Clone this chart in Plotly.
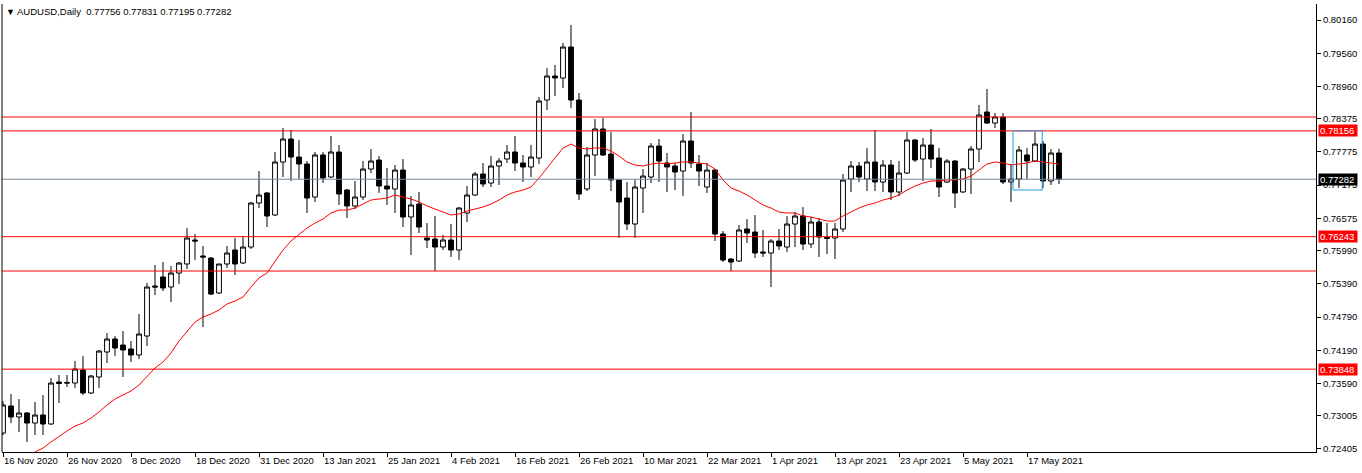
import plotly.graph_objects as go

# ---------------- data ----------------
symbol = "AUDUSD,Daily"

tick_bars = [0, 8, 16, 24, 32, 40, 48, 56, 64, 72, 80, 88, 96, 104, 112, 120, 128]
tick_labels = ["16 Nov 2020", "26 Nov 2020", "8 Dec 2020", "18 Dec 2020", "31 Dec 2020",
               "13 Jan 2021", "25 Jan 2021", "4 Feb 2021", "16 Feb 2021", "26 Feb 2021",
               "10 Mar 2021", "22 Mar 2021", "1 Apr 2021", "13 Apr 2021", "23 Apr 2021",
               "5 May 2021", "17 May 2021"]

opens = [
    0.72693, 0.73182, 0.72983, 0.73055, 0.72874, 0.73019, 0.72856, 0.73615, 0.73606, 0.73597,
    0.73832, 0.73417, 0.73706, 0.74158, 0.74393, 0.74284, 0.74212, 0.74104, 0.74447, 0.75351,
    0.75514, 0.75333, 0.75586, 0.75749, 0.76183, 0.75894, 0.75857, 0.75225, 0.75749, 0.76002,
    0.75767, 0.76056, 0.76852, 0.77033, 0.76635, 0.77593, 0.78009, 0.77683, 0.77557, 0.76960,
    0.77720, 0.77322, 0.77774, 0.77087, 0.76798, 0.76960, 0.77466, 0.77629, 0.77159, 0.77105,
    0.77448, 0.76599, 0.76834, 0.76219, 0.76201, 0.76056, 0.76183, 0.76002, 0.76671, 0.76996,
    0.77376, 0.77213, 0.77521, 0.77647, 0.77774, 0.77575, 0.77503, 0.77665, 0.78714, 0.79148,
    0.79112, 0.79672, 0.78714, 0.77105, 0.77720, 0.78190, 0.77738, 0.77268, 0.76942, 0.76472,
    0.77123, 0.77322, 0.77882, 0.77575, 0.77521, 0.77430, 0.77973, 0.77557, 0.77141, 0.77448,
    0.76291, 0.75839, 0.75803, 0.76382, 0.76327, 0.75966, 0.75948, 0.76165, 0.76056, 0.76472,
    0.76617, 0.76110, 0.76508, 0.76228, 0.76219, 0.76382, 0.77286, 0.77521, 0.77286, 0.77593,
    0.77231, 0.77539, 0.77051, 0.77394, 0.77991, 0.77647, 0.77900, 0.77665, 0.77231, 0.77611,
    0.77051, 0.77466, 0.77828, 0.78497, 0.78298, 0.78407, 0.77231, 0.77286, 0.77720, 0.77611,
    0.77918, 0.77250, 0.77756]

highs = [
    0.73272, 0.73398, 0.73308, 0.73073, 0.73254, 0.73380, 0.73688, 0.73742, 0.73742, 0.73995,
    0.74086, 0.73742, 0.74194, 0.74501, 0.74447, 0.74538, 0.74357, 0.74845, 0.75405, 0.75731,
    0.75785, 0.75713, 0.75785, 0.76400, 0.76291, 0.76074, 0.75875, 0.75749, 0.76074, 0.76219,
    0.76255, 0.76870, 0.77430, 0.77051, 0.77774, 0.78208, 0.78172, 0.77991, 0.77611, 0.77774,
    0.77774, 0.78063, 0.77900, 0.77105, 0.77250, 0.77611, 0.77828, 0.77702, 0.77485, 0.77539,
    0.77647, 0.76978, 0.77051, 0.76490, 0.76617, 0.76273, 0.76472, 0.76779, 0.77159, 0.77412,
    0.77575, 0.77702, 0.77665, 0.77900, 0.78063, 0.77720, 0.77900, 0.78768, 0.79293, 0.79347,
    0.79745, 0.80070, 0.78841, 0.77864, 0.78370, 0.78389, 0.78135, 0.77286, 0.77231, 0.77268,
    0.77466, 0.77937, 0.78009, 0.77756, 0.77575, 0.78099, 0.78497, 0.77720, 0.77575, 0.77466,
    0.76346, 0.75857, 0.76454, 0.76562, 0.76635, 0.76364, 0.76201, 0.76382, 0.76617, 0.76689,
    0.76779, 0.76599, 0.76581, 0.76490, 0.76490, 0.77376, 0.77611, 0.77593, 0.77846, 0.78172,
    0.77629, 0.77629, 0.77611, 0.78135, 0.78009, 0.78027, 0.78190, 0.77846, 0.77647, 0.77629,
    0.77485, 0.77882, 0.78624, 0.78913, 0.78479, 0.78479, 0.77557, 0.77882, 0.77846, 0.78135,
    0.77973, 0.77828, 0.77831]

lows = [
    0.72657, 0.72874, 0.72711, 0.72531, 0.72657, 0.72657, 0.72838, 0.73236, 0.73525, 0.73507,
    0.73380, 0.73398, 0.73507, 0.73959, 0.74086, 0.73706, 0.73977, 0.74031, 0.74266, 0.75188,
    0.75261, 0.75062, 0.75387, 0.75658, 0.75821, 0.74610, 0.75188, 0.75206, 0.75677, 0.75550,
    0.75749, 0.76020, 0.76761, 0.76418, 0.76617, 0.77322, 0.77250, 0.77286, 0.76671, 0.76870,
    0.77213, 0.77304, 0.76816, 0.76581, 0.76743, 0.76906, 0.77394, 0.77033, 0.76816, 0.76671,
    0.76418, 0.75912, 0.76309, 0.76038, 0.75622, 0.76002, 0.75875, 0.75821, 0.76508, 0.76978,
    0.77141, 0.77141, 0.77177, 0.77575, 0.77430, 0.77231, 0.77322, 0.77557, 0.78533, 0.78786,
    0.78931, 0.78569, 0.76906, 0.77069, 0.77340, 0.77702, 0.77069, 0.76219, 0.76364, 0.76219,
    0.76671, 0.77213, 0.77231, 0.77051, 0.77087, 0.76978, 0.77485, 0.77159, 0.77033, 0.76165,
    0.75785, 0.75622, 0.75785, 0.76129, 0.75857, 0.75875, 0.75333, 0.76002, 0.75966, 0.76056,
    0.76002, 0.76038, 0.75875, 0.75930, 0.75839, 0.76327, 0.77051, 0.77231, 0.77069, 0.77069,
    0.77051, 0.76906, 0.76978, 0.77376, 0.77593, 0.77250, 0.77485, 0.76960, 0.77213, 0.76761,
    0.77033, 0.77014, 0.77593, 0.78280, 0.78208, 0.77195, 0.76870, 0.77123, 0.77286, 0.77593,
    0.77123, 0.77177, 0.77195]

closes = [
    0.73200, 0.72983, 0.73055, 0.72874, 0.73019, 0.72856, 0.73597, 0.73588, 0.73597, 0.73850,
    0.73417, 0.73724, 0.74176, 0.74393, 0.74230, 0.74194, 0.74104, 0.74483, 0.75333, 0.75333,
    0.75315, 0.75586, 0.75767, 0.76219, 0.76165, 0.75875, 0.75206, 0.75749, 0.75948, 0.75749,
    0.76056, 0.76852, 0.76996, 0.76617, 0.77593, 0.78009, 0.77683, 0.77557, 0.76942, 0.77720,
    0.77304, 0.77774, 0.77014, 0.76798, 0.76960, 0.77466, 0.77611, 0.77159, 0.77105, 0.77448,
    0.76599, 0.76816, 0.76418, 0.76183, 0.76056, 0.76183, 0.76002, 0.76761, 0.76996, 0.77376,
    0.77195, 0.77521, 0.77611, 0.77774, 0.77575, 0.77503, 0.77683, 0.78696, 0.79148, 0.79112,
    0.79672, 0.78714, 0.77014, 0.77720, 0.78190, 0.77720, 0.77268, 0.76870, 0.76472, 0.77141,
    0.77340, 0.77882, 0.77611, 0.77503, 0.77412, 0.77973, 0.77575, 0.77430, 0.77448, 0.76291,
    0.75821, 0.75785, 0.76364, 0.76309, 0.75948, 0.75948, 0.76165, 0.76074, 0.76472, 0.76617,
    0.76110, 0.76508, 0.76237, 0.76210, 0.76382, 0.77268, 0.77521, 0.77322, 0.77593, 0.77231,
    0.77539, 0.77051, 0.77394, 0.77991, 0.77629, 0.77900, 0.77647, 0.77141, 0.77611, 0.77033,
    0.77466, 0.77828, 0.78443, 0.78298, 0.78407, 0.77231, 0.77286, 0.77810, 0.77611, 0.77918,
    0.77250, 0.77756, 0.77282]

ma_values = [
    0.72006, 0.72097, 0.72187, 0.72278, 0.72350, 0.72422, 0.72531, 0.72639, 0.72730, 0.72820,
    0.72874, 0.72965, 0.73073, 0.73200, 0.73308, 0.73380, 0.73453, 0.73561, 0.73706, 0.73869,
    0.73977, 0.74140, 0.74357, 0.74538, 0.74700, 0.74791, 0.74845, 0.74917, 0.75026, 0.75080,
    0.75152, 0.75333, 0.75496, 0.75586, 0.75785, 0.76002, 0.76165, 0.76291, 0.76400, 0.76490,
    0.76562, 0.76671, 0.76725, 0.76725, 0.76761, 0.76834, 0.76906, 0.76924, 0.76942, 0.76996,
    0.76960, 0.76924, 0.76870, 0.76798, 0.76743, 0.76689, 0.76635, 0.76653, 0.76707, 0.76743,
    0.76779, 0.76834, 0.76906, 0.76996, 0.77051, 0.77087, 0.77141, 0.77304, 0.77485, 0.77665,
    0.77846, 0.77918, 0.77846, 0.77828, 0.77846, 0.77846, 0.77792, 0.77702, 0.77593, 0.77539,
    0.77521, 0.77557, 0.77575, 0.77557, 0.77575, 0.77593, 0.77593, 0.77575, 0.77557, 0.77466,
    0.77268, 0.77123, 0.77069, 0.76996, 0.76906, 0.76816, 0.76761, 0.76689, 0.76671, 0.76671,
    0.76617, 0.76599, 0.76562, 0.76526, 0.76526, 0.76617, 0.76689, 0.76761, 0.76816, 0.76852,
    0.76906, 0.76942, 0.76996, 0.77087, 0.77159, 0.77213, 0.77250, 0.77250, 0.77268, 0.77268,
    0.77286, 0.77340, 0.77448, 0.77557, 0.77593, 0.77575, 0.77539, 0.77557, 0.77575, 0.77611,
    0.77593, 0.77575, 0.77557]

price_ticks = [0.80160, 0.79560, 0.78960, 0.78375, 0.77775, 0.77175, 0.76575,
               0.75990, 0.75390, 0.74790, 0.74190, 0.73590, 0.73005, 0.72405]
price_tick_text = ["0.80160", "0.79560", "0.78960", "0.78375", "0.77775", "0.77175", "0.76575",
                   "0.75990", "0.75390", "0.74790", "0.74190", "0.73590", "0.73005", "0.72405"]

labeled_levels = [0.78156, 0.76243, 0.73848]
unlabeled_levels = [0.78407, 0.75622]
bid_price = closes[-1]
rect_prices = [0.77087, 0.78156]
rect_bars = [126.25, 129.9]

# ---------------- figure ----------------
bars = list(range(len(closes)))
FONT = "Liberation Sans, Arial, sans-serif"

fig = go.Figure()
fig.add_trace(go.Candlestick(
    x=bars, open=opens, high=highs, low=lows, close=closes,
    increasing=dict(line=dict(color="black", width=1), fillcolor="white"),
    decreasing=dict(line=dict(color="black", width=1), fillcolor="black"),
    whiskerwidth=0, hoverinfo="skip", showlegend=False))
fig.add_trace(go.Scatter(x=bars, y=ma_values, mode="lines",
                         line=dict(color="#FF0000", width=1), hoverinfo="skip", showlegend=False))

shapes = []
for lv in labeled_levels + unlabeled_levels:
    shapes.append(dict(type="line", xref="paper", x0=0, x1=1, yref="y", y0=lv, y1=lv,
                       line=dict(color="#FF0000", width=1)))
shapes.append(dict(type="line", xref="paper", x0=0, x1=1, yref="y", y0=bid_price, y1=bid_price,
                   line=dict(color="#778899", width=1)))
shapes.append(dict(type="rect", xref="x", x0=rect_bars[0], x1=rect_bars[1], yref="y",
                   y0=rect_prices[0], y1=rect_prices[1],
                   line=dict(color="#1E9BD7", width=1), fillcolor="rgba(0,0,0,0)"))
# left frame line
shapes.append(dict(type="line", xref="paper", x0=0, x1=0, yref="paper", y0=0, y1=1,
                   line=dict(color="black", width=1)))

annotations = []
for lv in labeled_levels:
    annotations.append(dict(xref="paper", x=1, yref="y", y=lv, xanchor="left", yanchor="middle",
                            text=f"{lv:.5f}", showarrow=False, bgcolor="#FF0000",
                            font=dict(color="white", size=9.5, family=FONT),
                            xshift=2, width=36, height=9, borderpad=1, align="left"))
annotations.append(dict(xref="paper", x=1, yref="y", y=bid_price, xanchor="left", yanchor="middle",
                        text=f"{bid_price:.5f}", showarrow=False, bgcolor="black",
                        font=dict(color="white", size=9.5, family=FONT),
                        xshift=2, width=36, height=9, borderpad=1, align="left"))
title_text = (f"<span style='font-size:9px'>▼</span> {symbol}&nbsp;&nbsp;"
              f"{opens[-1]:.5f} {highs[-1]:.5f} {lows[-1]:.5f} {closes[-1]:.5f}")
annotations.append(dict(xref="paper", x=0, yref="paper", y=1, xanchor="left", yanchor="top",
                        text=title_text, showarrow=False, xshift=2, yshift=0,
                        font=dict(color="black", size=9.5, family=FONT)))

fig.update_layout(
    width=1362, height=473,
    margin=dict(l=2, r=46, t=4, b=21, pad=0),
    paper_bgcolor="white", plot_bgcolor="white",
    showlegend=False, boxgap=0.2, boxgroupgap=0.25,
    font=dict(family=FONT, size=9.5, color="black"),
    shapes=shapes, annotations=annotations,
)
fig.update_xaxes(range=[-0.125, 164.125], tickmode="array", tickvals=tick_bars, ticktext=tick_labels,
                 ticks="outside", ticklen=4, tickcolor="black", tickwidth=1,
                 showline=True, linecolor="black", linewidth=1, showgrid=False, zeroline=False,
                 rangeslider=dict(visible=False), ticklabelposition="outside right",
                 tickfont=dict(size=9.5, family=FONT, color="black"))
fig.update_yaxes(side="right", range=[0.72350, 0.80450], tickmode="array",
                 tickvals=price_ticks, ticktext=price_tick_text,
                 ticks="outside", ticklen=4, tickcolor="black", tickwidth=1,
                 showline=True, linecolor="black", linewidth=1, showgrid=False, zeroline=False,
                 tickfont=dict(size=9.5, family=FONT, color="black"))

fig.write_html("out.html")
